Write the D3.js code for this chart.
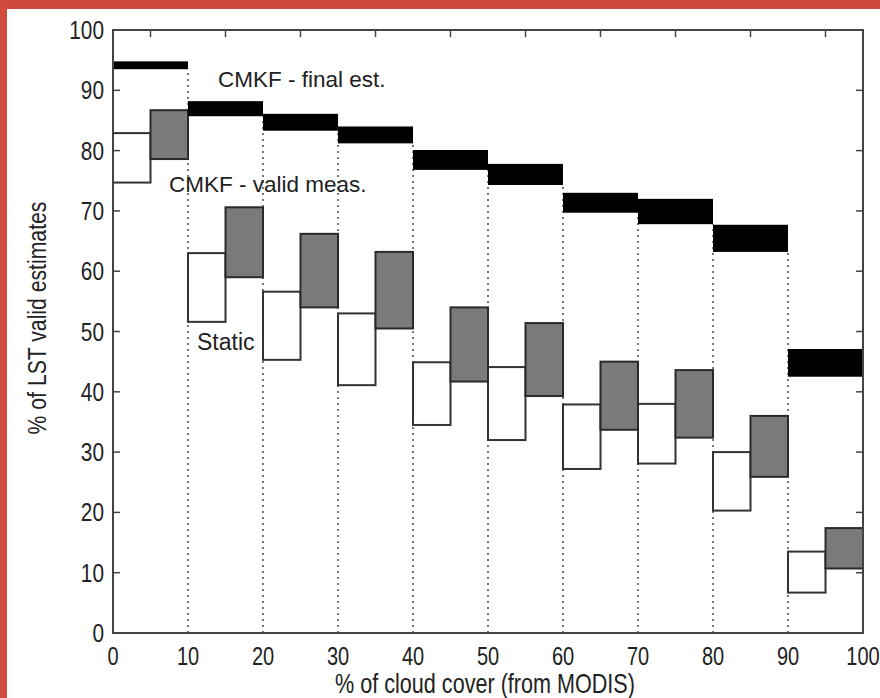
<!DOCTYPE html>
<html>
<head>
<meta charset="utf-8">
<script src="https://cdn.jsdelivr.net/npm/d3@7"></script>
<style>
  body { margin: 0; background: #fff; }
  svg { display: block; }
</style>
</head>
<body>
<div id="chart"></div>
<script>
// bins of cloud cover (left edge of each 10% bin)
var bins = [0, 10, 20, 30, 40, 50, 60, 70, 80, 90];

// CMKF - final est. (black bars, full bin)
var finalLo = [93.5, 85.7, 83.3, 81.2, 76.8, 74.3, 69.7, 67.8, 63.2, 42.5];
var finalHi = [94.8, 88.2, 86.1, 84.0, 80.1, 77.8, 73.0, 72.0, 67.7, 47.1];

// Static (white boxes, first half of bin)
var staticLo = [74.7, 51.6, 45.3, 41.1, 34.5, 32.0, 27.2, 28.1, 20.3, 6.7];
var staticHi = [82.9, 63.0, 56.6, 53.0, 44.9, 44.1, 37.9, 38.0, 30.0, 13.5];

// CMKF - valid meas. (grey boxes, second half of bin)
var validLo = [78.6, 59.0, 54.0, 50.5, 41.7, 39.3, 33.7, 32.4, 25.9, 10.7];
var validHi = [86.7, 70.6, 66.2, 63.2, 54.0, 51.4, 45.0, 43.6, 36.0, 17.4];

var xTicks = [0, 10, 20, 30, 40, 50, 60, 70, 80, 90, 100];
var yTicks = [0, 10, 20, 30, 40, 50, 60, 70, 80, 90, 100];
var topTicks = [5, 15, 25, 35, 45, 55, 65, 75, 85, 95];

var W = 880, H = 698;
var svg = d3.select("#chart").append("svg")
  .attr("width", W).attr("height", H);

svg.append("rect").attr("width", W).attr("height", H).attr("fill", "#fff");
// red frame of the screenshot
svg.append("rect").attr("x", 0).attr("y", 0).attr("width", W).attr("height", 9).attr("fill", "#cd483b");
svg.append("rect").attr("x", 0).attr("y", 0).attr("width", 7).attr("height", H).attr("fill", "#d04c3e");

var x = d3.scaleLinear().domain([0, 100]).range([113, 863]);
var y = d3.scaleLinear().domain([0, 100]).range([633, 30]);

var font = "'Liberation Sans', Arial, sans-serif";
var narrow = 0.8; // matlab labels look condensed

// dotted bin separators: from 0 up to bottom of the final-est bar on the left
var sepTop = xTicks.map(function(v, i) { return finalLo[Math.max(0, i - 1)]; });
svg.selectAll("line.sep")
  .data(xTicks).enter()
  .append("line")
  .attr("class", "sep")
  .attr("x1", function(d) { return x(d); })
  .attr("x2", function(d) { return x(d); })
  .attr("y1", y(0))
  .attr("y2", function(d, i) { return y(sepTop[i]); })
  .attr("stroke", "#555")
  .attr("stroke-width", 1.6)
  .attr("stroke-dasharray", "2,4");

// static boxes
svg.selectAll("rect.static")
  .data(bins).enter()
  .append("rect")
  .attr("x", function(d) { return x(d); })
  .attr("width", function(d) { return x(d + 5) - x(d); })
  .attr("y", function(d, i) { return y(staticHi[i]); })
  .attr("height", function(d, i) { return y(staticLo[i]) - y(staticHi[i]); })
  .attr("fill", "#fff")
  .attr("stroke", "#333")
  .attr("stroke-width", 2);

// valid meas boxes
svg.selectAll("rect.valid")
  .data(bins).enter()
  .append("rect")
  .attr("x", function(d) { return x(d + 5); })
  .attr("width", function(d) { return x(d + 10) - x(d + 5); })
  .attr("y", function(d, i) { return y(validHi[i]); })
  .attr("height", function(d, i) { return y(validLo[i]) - y(validHi[i]); })
  .attr("fill", "#7a7a7a")
  .attr("stroke", "#2a2a2a")
  .attr("stroke-width", 2);

// final estimate bars
svg.selectAll("rect.final")
  .data(bins).enter()
  .append("rect")
  .attr("x", function(d) { return x(d); })
  .attr("width", function(d) { return x(d + 10) - x(d); })
  .attr("y", function(d, i) { return y(finalHi[i]); })
  .attr("height", function(d, i) { return y(finalLo[i]) - y(finalHi[i]); })
  .attr("fill", "#000");

// axes box
svg.append("rect")
  .attr("x", x(0)).attr("y", y(100))
  .attr("width", x(100) - x(0)).attr("height", y(0) - y(100))
  .attr("fill", "none").attr("stroke", "#444").attr("stroke-width", 2);

// inner ticks
var tl = 7;
svg.selectAll("line.yl").data(yTicks).enter().append("line")
  .attr("x1", x(0)).attr("x2", x(0) + tl)
  .attr("y1", function(d) { return y(d); }).attr("y2", function(d) { return y(d); })
  .attr("stroke", "#444").attr("stroke-width", 1.5);
svg.selectAll("line.yr").data(yTicks).enter().append("line")
  .attr("x1", x(100)).attr("x2", x(100) - tl)
  .attr("y1", function(d) { return y(d); }).attr("y2", function(d) { return y(d); })
  .attr("stroke", "#444").attr("stroke-width", 1.5);
svg.selectAll("line.xt").data(topTicks).enter().append("line")
  .attr("x1", function(d) { return x(d); }).attr("x2", function(d) { return x(d); })
  .attr("y1", y(100)).attr("y2", y(100) + tl)
  .attr("stroke", "#444").attr("stroke-width", 1.5);

// tick labels
svg.selectAll("text.yl").data(yTicks).enter().append("text")
  .attr("transform", function(d) { return "translate(104," + (y(d) + 9) + ") scale(" + narrow + ",1)"; })
  .attr("text-anchor", "end")
  .attr("font-family", font).attr("font-size", 26)
  .attr("fill", "#222")
  .text(function(d) { return d; });
svg.selectAll("text.xl").data(xTicks).enter().append("text")
  .attr("transform", function(d) { return "translate(" + x(d) + ",665) scale(" + narrow + ",1)"; })
  .attr("text-anchor", "middle")
  .attr("font-family", font).attr("font-size", 25)
  .attr("fill", "#222")
  .text(function(d) { return d; });

// axis titles
svg.append("text")
  .attr("transform", "translate(485,693) scale(" + narrow + ",1)")
  .attr("text-anchor", "middle")
  .attr("font-family", font).attr("font-size", 27)
  .attr("fill", "#222")
  .text("% of cloud cover (from MODIS)");
svg.append("text")
  .attr("transform", "translate(46,318) rotate(-90) scale(" + narrow + ",1)")
  .attr("text-anchor", "middle")
  .attr("font-family", font).attr("font-size", 26.5)
  .attr("fill", "#222")
  .text("% of LST valid estimates");

// series labels
svg.append("text").attr("x", 218).attr("y", 87)
  .attr("font-family", font).attr("font-size", 22.5).attr("fill", "#222")
  .text("CMKF - final est.");
svg.append("text").attr("x", 169).attr("y", 192)
  .attr("font-family", font).attr("font-size", 22.5).attr("fill", "#222")
  .text("CMKF - valid meas.");
svg.append("text").attr("x", 197).attr("y", 350)
  .attr("font-family", font).attr("font-size", 23).attr("fill", "#222")
  .text("Static");
</script>
</body>
</html>
